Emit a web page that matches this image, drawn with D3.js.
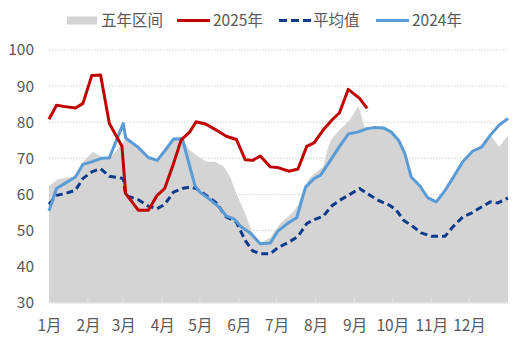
<!DOCTYPE html>
<html><head><meta charset="utf-8">
<script src="https://cdn.jsdelivr.net/npm/d3@7"></script>
<style>html,body{margin:0;padding:0;background:#fff}svg{display:block}</style>
</head><body>
<svg id="c" width="522" height="348"></svg>
<script>
// ---- data ----
const monthLabels = ["1月","2月","3月","4月","5月","6月","7月","8月","9月","10月","11月","12月"];
const monthStartDays = [0,31,59,90,120,151,181,212,243,273,304,334];
const yTicks = [30,40,50,60,70,80,90,100];

// 五年区间 (upper bound; area filled to axis)
const rangeDays = [0,7,13,21,27,35,41,48,58,61,71,79,86,92,99,106,112,119,125,132,139,144,149,156,162,168,176,184,194,198,204,208,218,222,225,231,239,246,251,259,266,272,278,283,288,295,301,308,315,321,329,337,344,351,358,365];
const rangeMax  = [62.3,64.1,64.6,64.8,69.0,71.8,70.6,69.8,74.0,75.6,73.0,70.2,69.4,72.2,75.3,75.4,72.2,70.4,69.0,69.0,67.6,64.8,60.2,54.6,49.1,46.5,48.0,51.9,55.1,57.0,62.5,64.8,67.6,73.1,75.5,77.8,80.5,84.5,78.6,78.5,78.4,77.3,75.0,71.3,64.8,62.3,59.1,57.9,61.1,64.4,69.0,72.0,73.1,76.4,73.1,76.4];

// 2025年
const days2025 = [0,6,13,21,27,34,41,48,58,61,71,79,86,92,99,105,112,117,125,133,141,149,156,162,168,176,182,191,198,205,211,218,225,231,238,247,253];
const vals2025 = [80.8,84.7,84.3,83.9,85.2,92.9,93.1,79.6,73.3,60.2,55.6,55.6,59.7,61.6,68.5,75.0,77.3,80.1,79.4,77.8,76.1,75.2,69.6,69.4,70.6,67.6,67.4,66.4,67.0,73.3,74.3,77.8,80.6,82.6,89.1,86.6,83.8];

// 平均值
const daysAvg = [0,6,13,21,27,34,41,48,59,61,71,79,86,92,99,106,112,117,125,133,141,149,156,162,168,176,182,191,198,205,211,218,225,231,238,247,253,262,271,276,282,290,296,304,315,321,329,336,344,351,357,365];
const valsAvg = [57.2,59.7,60.2,61.1,64.4,66.2,67.1,65.0,64.4,59.7,58.5,56.7,56.0,57.2,60.6,61.6,62.0,61.6,59.7,57.6,53.7,52.3,47.2,44.3,43.5,43.5,45.2,46.8,48.3,51.9,53.0,53.9,56.8,58.3,59.7,61.6,60.2,58.3,56.9,55.7,52.8,50.9,49.3,48.4,48.4,50.9,53.7,54.8,56.5,57.9,57.6,59.0];

// 2024年
const days2024 = [0,6,13,21,27,34,41,48,59,61,71,79,86,92,99,106,116,120,127,135,141,147,153,160,168,176,182,190,197,204,211,216,223,231,238,246,253,259,266,272,278,283,288,295,301,308,315,321,329,337,344,351,358,365];
const vals2024 = [55.4,61.6,63.1,64.8,68.3,69.0,69.9,70.1,79.6,75.6,73.0,70.2,69.4,72.0,75.3,75.4,62.5,60.6,58.8,56.5,54.0,53.2,50.9,49.3,46.3,46.5,49.8,52.0,53.5,62.0,64.4,65.3,69.0,73.3,76.7,77.3,78.2,78.5,78.4,77.3,75.0,71.3,64.8,62.3,59.1,57.9,61.1,64.4,69.0,72.0,73.1,76.4,79.2,81.0];

// ---- chart ----
const svg = d3.select("#c");
const font = "'Noto Sans CJK SC','Noto Sans',sans-serif";
const textColor = "#595959";
const x = d3.scaleLinear().domain([0,365]).range([49,508]);
const y = d3.scaleLinear().domain([30,100]).range([302.5,50]);

// gridlines
svg.append("g").selectAll("line").data(yTicks.filter(v=>v>30)).join("line")
  .attr("x1",x(0)).attr("x2",x(365)).attr("y1",d=>y(d)).attr("y2",d=>y(d))
  .attr("stroke","#d0d0d0").attr("stroke-width",1).attr("stroke-dasharray","1.5,1.5");

// range area
const rangeData = rangeDays.map((d,i)=>({d, v:rangeMax[i]}));
svg.append("path").datum(rangeData)
  .attr("d", d3.area().x(p=>x(p.d)).y0(y(30)).y1(p=>y(p.v)))
  .attr("fill","#d4d4d4");

// x axis
const xAxis = d3.axisBottom(x).tickValues(monthStartDays).tickSize(0)
  .tickFormat((d,i)=>monthLabels[i]);
const gx = svg.append("g").attr("transform",`translate(0,${y(30)})`).call(xAxis);
gx.select(".domain").attr("stroke","#d9d9d9").attr("stroke-width",1.2);
gx.selectAll(".tick text").attr("font-family",font).attr("font-size",15.5)
  .attr("fill",textColor).attr("dy","1.65em");
svg.append("g").selectAll("line").data(monthStartDays.slice(1)).join("line")
  .attr("x1",d=>x(d)).attr("x2",d=>x(d)).attr("y1",y(30)-5).attr("y2",y(30))
  .attr("stroke","#e4e4e4").attr("stroke-width",1);

// y axis labels
const yAxis = d3.axisLeft(y).tickValues(yTicks).tickSize(0).tickPadding(0);
const gy = svg.append("g").attr("transform","translate(34,0)").call(yAxis);
gy.select(".domain").remove();
gy.selectAll(".tick text").attr("font-family",font).attr("font-size",15.5)
  .attr("fill",textColor);

// lines
function drawLine(days, vals, color, dash){
  const data = days.map((d,i)=>({d, v:vals[i]}));
  const p = svg.append("path").datum(data)
    .attr("d", d3.line().x(q=>x(q.d)).y(q=>y(q.v)))
    .attr("fill","none").attr("stroke",color).attr("stroke-width",3)
    .attr("stroke-linejoin","round");
  if(dash) p.attr("stroke-dasharray",dash);
}
drawLine(daysAvg, valsAvg, "#0d3b8a", "7,4");
drawLine(days2024, vals2024, "#5b9bd5");
drawLine(days2025, vals2025, "#c00000");

// legend
const lg = svg.append("g").attr("font-family",font).attr("font-size",15.5).attr("fill",textColor);
const ly = 20.5;
lg.append("rect").attr("x",67).attr("y",ly-4).attr("width",30).attr("height",8).attr("fill","#d4d4d4");
lg.append("text").attr("x",101).attr("y",ly).attr("dy","0.35em").text("五年区间");
lg.append("line").attr("x1",177).attr("x2",210).attr("y1",ly).attr("y2",ly).attr("stroke","#c00000").attr("stroke-width",3);
lg.append("text").attr("x",213).attr("y",ly).attr("dy","0.35em").text("2025年");
lg.append("line").attr("x1",279).attr("x2",311).attr("y1",ly).attr("y2",ly).attr("stroke","#0d3b8a").attr("stroke-width",3).attr("stroke-dasharray","8,4");
lg.append("text").attr("x",313).attr("y",ly).attr("dy","0.35em").text("平均值");
lg.append("line").attr("x1",376).attr("x2",409).attr("y1",ly).attr("y2",ly).attr("stroke","#5b9bd5").attr("stroke-width",3);
lg.append("text").attr("x",412).attr("y",ly).attr("dy","0.35em").text("2024年");
</script>
</body></html>
